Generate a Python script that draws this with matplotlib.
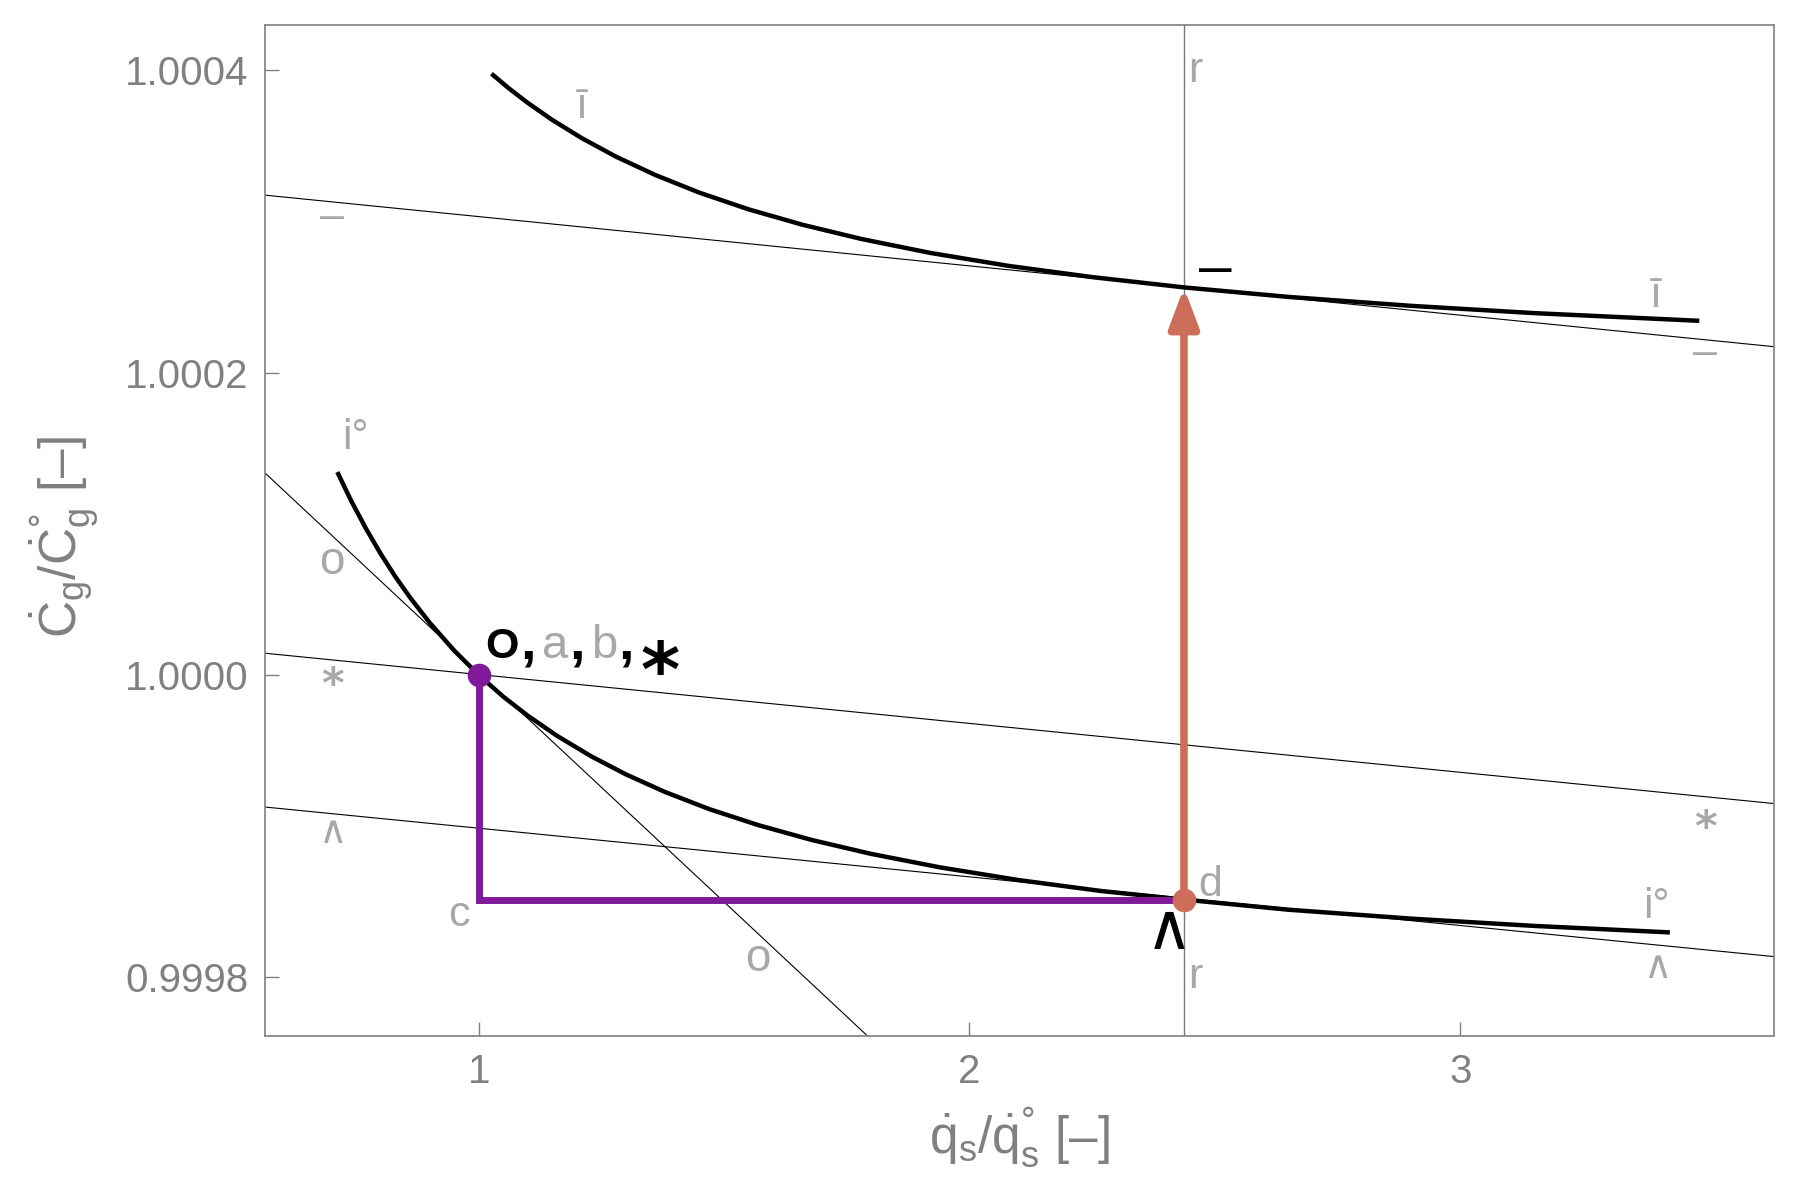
import matplotlib
matplotlib.use("Agg")
import matplotlib.pyplot as plt

plt.rcParams['font.family'] = ['Liberation Sans', 'DejaVu Sans']
plt.rcParams['mathtext.fontset'] = 'custom'
plt.rcParams['mathtext.rm'] = 'Liberation Sans'
plt.rcParams['mathtext.it'] = 'Liberation Sans'
plt.rcParams['mathtext.bf'] = 'Liberation Sans:bold'

# ---------------- data ----------------
x_lower = [0.712, 0.74, 0.77, 0.80, 0.83, 0.86, 0.90, 0.95, 1.00, 1.05, 1.10, 1.16,
           1.23, 1.30, 1.38, 1.47, 1.57, 1.68, 1.80, 1.94, 2.10, 2.27, 2.437, 2.65,
           2.90, 3.15, 3.427]
y_lower = [1.0001342, 1.0001153, 1.0000970, 1.0000803, 1.0000651, 1.0000513, 1.0000346,
           1.0000162, 1.0000000, 0.9999857, 0.9999731, 0.9999597, 0.9999461, 0.9999343,
           0.9999226, 0.9999113, 0.9999007, 0.9998908, 0.9998817, 0.9998728, 0.9998644,
           0.9998571, 0.9998515, 0.9998448, 0.9998389, 0.9998341, 0.9998298]

x_upper = [1.026, 1.06, 1.10, 1.15, 1.21, 1.28, 1.36, 1.45, 1.55, 1.66, 1.78, 1.92,
           2.08, 2.25, 2.437, 2.65, 2.90, 3.15, 3.487]
y_upper = [1.0003976, 1.0003883, 1.0003783, 1.0003670, 1.0003550, 1.0003427, 1.0003306,
           1.0003189, 1.0003079, 1.0002977, 1.0002883, 1.0002791, 1.0002705, 1.0002631,
           1.0002563, 1.0002500, 1.0002441, 1.0002393, 1.0002342]

# straight reference lines (end points on the frame)
line_bar_x = [0.5646, 3.6392]
line_bar_y = [1.0003173, 1.0002171]
line_o_x = [0.5646, 1.791]
line_o_y = [1.0001336, 0.9997617]
line_star_x = [0.5646, 3.6392]
line_star_y = [1.0000144, 0.9999150]
line_hat_x = [0.5646, 3.6392]
line_hat_y = [0.9999127, 0.9998138]

r_x = 2.437
point_o = (1.0, 1.0)
point_d = (2.437, 0.9998515)
point_top = (2.437, 1.0002563)

x_ticks = [1, 2, 3]
x_ticklabels = ['1', '2', '3']
y_ticks = [0.9998, 1.0000, 1.0002, 1.0004]
y_ticklabels = ['0.9998', '1.0000', '1.0002', '1.0004']

# gray point labels: text, x, y (visual centre)
gray_text = ['ī', 'ī', '–', '–', 'r', 'r', 'i°', 'i°', 'o', 'o', 'c', 'd']
gray_x = [1.2107, 3.399, 0.701, 3.4996, 2.459, 2.460, 0.748, 3.4006, 0.7005, 1.5697, 0.9605, 2.490]
gray_y = [1.000380, 1.000255, 1.0003035, 1.0002133, 1.0003992, 0.9998005, 1.000160, 0.999850,
          1.0000750, 0.9998127, 0.9998415, 0.9998645]
gray_star_x = [0.702, 3.5002]
gray_star_y = [1.0000008, 0.9999063]
gray_hat_x = [0.7037, 3.403]
gray_hat_y = [0.9998984, 0.999809]

# label group at the reference point: "O, a, b, *"
group_text = ['O', ',', 'a', ',', 'b', ',', '*']
group_x = [1.048, 1.100, 1.1555, 1.1996, 1.256, 1.300, 1.3694]

XLIM = (0.5646, 3.6392)
YLIM = (0.9997613, 1.0004298)

# ---------------- styles ----------------
PURPLE = '#801A9A'
SALMON = '#CD6E5A'
GRAY_LAB = '#A8A8A8'
GRAY_AX = '#808080'

fig = plt.figure(figsize=(18, 12), dpi=100)
L, R, T, B = 265, 1774, 25, 1036
ax = fig.add_axes([L / 1800, 1 - B / 1200, (R - L) / 1800, (B - T) / 1200])
ax.set_xlim(*XLIM)
ax.set_ylim(*YLIM)

for sp in ax.spines.values():
    sp.set_color('#888888')
    sp.set_linewidth(1.3)

ax.set_xticks(x_ticks, labels=x_ticklabels)
ax.set_yticks(y_ticks, labels=y_ticklabels)
ax.tick_params(direction='in', length=10, width=1.0, colors=GRAY_AX,
               labelsize=29, pad=12)

# thin lines
for xs, ys in [(line_bar_x, line_bar_y), (line_o_x, line_o_y),
               (line_star_x, line_star_y), (line_hat_x, line_hat_y)]:
    ax.plot(xs, ys, color='black', lw=0.8, zorder=2)
ax.axvline(r_x, color='#7a7a7a', lw=1.0, zorder=2)

# curves
ax.plot(x_lower, y_lower, color='black', lw=3.2, zorder=4, solid_capstyle='butt')
ax.plot(x_upper, y_upper, color='black', lw=3.2, zorder=4, solid_capstyle='butt')

# purple path
ax.plot([point_o[0], point_o[0], point_d[0]], [point_o[1], point_d[1], point_d[1]],
        color=PURPLE, lw=5, zorder=5, solid_joinstyle='miter', solid_capstyle='butt')

# salmon arrow
ax.annotate('', xy=point_top, xytext=point_d,
            arrowprops=dict(arrowstyle='-|>,head_length=1.2,head_width=0.45',
                            mutation_scale=20, lw=5.5, color=SALMON,
                            shrinkA=0, shrinkB=0, joinstyle='round', capstyle='butt'),
            zorder=6)

ax.plot(*point_o, 'o', color=PURPLE, ms=16, zorder=7)
ax.plot(*point_d, 'o', color=SALMON, ms=16, zorder=7)

def lab(s, x, y, fs, color, c=0.3, weight='normal', family=None, ha='center'):
    kw = dict(xytext=(0, -c * fs), textcoords='offset points', ha=ha, va='baseline',
              fontsize=fs, color=color, fontweight=weight, zorder=8, annotation_clip=False)
    if family is not None:
        kw['family'] = family
    ax.annotate(s, (x, y), **kw)

centres = {'ī': 0.40, '–': 0.27, 'r': 0.26, 'i°': 0.37, 'o': 0.27, 'c': 0.27, 'd': 0.37}
for s, x, y in zip(gray_text, gray_x, gray_y):
    lab(s, x, y, 33 if s == 'o' else 31, GRAY_LAB, c=centres[s])
for x, y in zip(gray_star_x, gray_star_y):
    lab('*', x, y, 31, GRAY_LAB, c=0.57, weight='bold', family=['DejaVu Sans'])
for x, y in zip(gray_hat_x, gray_hat_y):
    lab('∧', x, y, 28, GRAY_LAB, c=0.36, family=['DejaVu Sans'])

# black labels
lab('–', 2.5009, 1.0002682, 42, 'black', c=0.27)
lab('∧', 2.406, 0.9998338, 46, 'black', c=0.36, family=['DejaVu Sans'])

# point label group "O, a, b, *"
base_y = 1.000011
group_style = {
    'O': dict(fs=31, color='black', weight='bold'),
    ',': dict(fs=40, color='black', weight='bold'),
    'a': dict(fs=34, color=GRAY_LAB, weight='normal'),
    'b': dict(fs=34, color=GRAY_LAB, weight='normal'),
}
for s, x in zip(group_text, group_x):
    if s == '*':
        lab('*', x, 1.0000143, 54, 'black', c=0.57, weight='bold', family=['DejaVu Sans'])
    else:
        st = group_style[s]
        lab(s, x, base_y, st['fs'], st['color'], c=0.0, weight=st['weight'])

# axis labels
fig.text((L + R) / 2 / 1800, 1 - 1137 / 1200,
         r'$\dot{q}_{\mathrm{s}}/\dot{q}_{\mathrm{s}}^{°}$ [–]',
         ha='center', va='center', fontsize=37, color=GRAY_AX)
fig.text(64 / 1800, 1 - 537 / 1200,
         r'$\dot{C}_{\mathrm{g}}/\dot{C}_{\mathrm{g}}^{°}$ [–]',
         ha='center', va='center', rotation=90, fontsize=37, color=GRAY_AX)

fig.savefig('out.png', dpi=100, facecolor='white')
